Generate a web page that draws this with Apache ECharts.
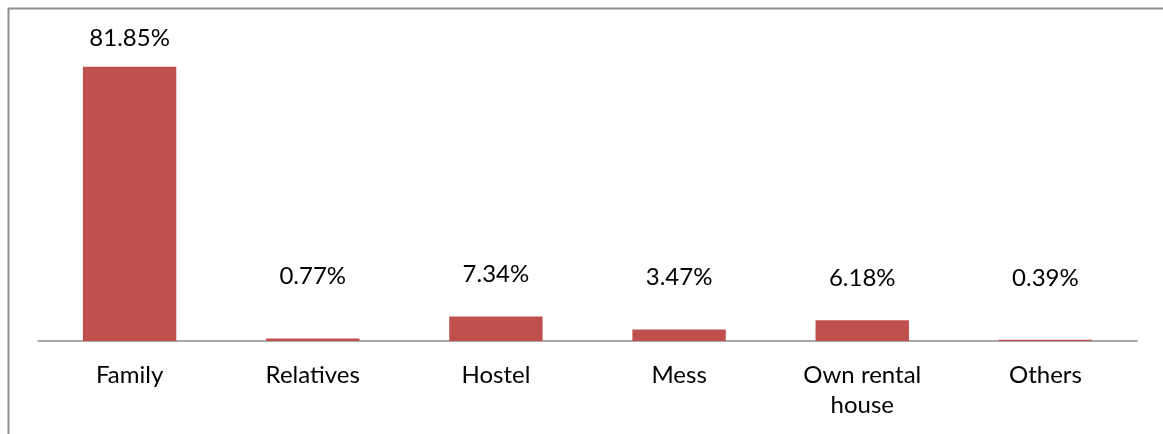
<!DOCTYPE html>
<html>
<head>
<meta charset="utf-8">
<script src="https://cdn.jsdelivr.net/npm/echarts@6/dist/echarts.min.js"></script>
<style>
  html, body { margin: 0; padding: 0; background: #fff; }
  #chart { width: 1163px; height: 434px; }
</style>
</head>
<body>
<div id="chart"></div>
<script>
// Place of residence of respondents (%)
const categories = ['Family', 'Relatives', 'Hostel', 'Mess', 'Own rental\nhouse', 'Others'];
const shares = [81.85, 0.77, 7.34, 3.47, 6.18, 0.39];

// Pixel rows where the value labels sit (the tall bar has its own row)
const labelRowY = [36, 274, 272, 275, 276, 276];

const FONT = 'Lato';
const FONT_SIZE = 24;

const chart = echarts.init(document.getElementById('chart'), null, { renderer: 'canvas' });

const option = {
  animation: false,
  backgroundColor: '#ffffff',
  textStyle: { fontFamily: FONT },
  grid: { left: 38, right: 26, top: 39.5, bottom: 93 },
  xAxis: {
    type: 'category',
    data: categories,
    axisLine: { show: true, lineStyle: { color: '#8c8c8c', width: 1.5 } },
    axisTick: { show: false },
    axisLabel: {
      color: '#000',
      fontFamily: FONT,
      fontSize: FONT_SIZE,
      margin: 19,
      lineHeight: 30,
      interval: 0
    }
  },
  yAxis: {
    type: 'value',
    min: 0,
    max: 90,
    show: false,
    splitLine: { show: false }
  },
  graphic: [{
    type: 'rect',
    silent: true,
    shape: { x: 8.5, y: 8.5, width: 1200, height: 500 },
    style: { fill: 'none', stroke: '#909090', lineWidth: 2 }
  }],
  series: [{
    type: 'bar',
    data: shares,
    barWidth: '51%',
    itemStyle: { color: '#c0504d' },
    label: {
      show: true,
      position: 'top',
      distance: 5,
      color: '#000',
      fontFamily: FONT,
      fontSize: FONT_SIZE,
      formatter: p => p.value.toFixed(2) + '%'
    }
  }]
};

chart.setOption(option);

// Lift each value label to its row using the chart's own value scale
const lineH = FONT_SIZE * 1.2;
const items = shares.map((v, i) => {
  const top = chart.convertToPixel({ seriesIndex: 0 }, [i, v])[1];
  const dist = Math.max(2, top - labelRowY[i] - lineH / 2);
  return { value: v, label: { distance: dist } };
});
chart.setOption({ series: [{ data: items }] });
</script>
</body>
</html>
